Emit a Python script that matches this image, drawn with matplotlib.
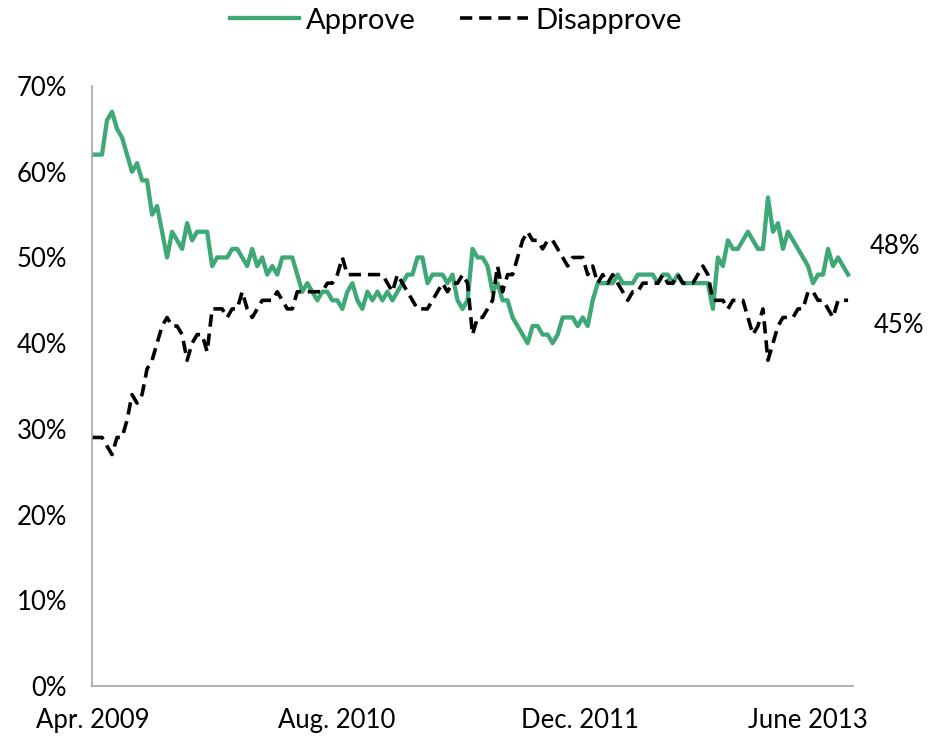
import numpy as np
import matplotlib.pyplot as plt

plt.rcParams['font.family'] = ['Lato', 'DejaVu Sans']

# Weekly-ish approval readings, Apr. 2009 - Aug. 2013 (percent)
approve = [62, 62, 62, 66, 67, 65, 64, 62, 60, 61,
           59, 59, 55, 56, 53, 50, 53, 52, 51, 54,
           52, 53, 53, 53, 49, 50, 50, 50, 51, 51,
           50, 49, 51, 49, 50, 48, 49, 48, 50, 50,
           50, 48, 46, 47, 46, 45, 46, 46, 45, 45,
           44, 46, 47, 45, 44, 46, 45, 46, 45, 46,
           45, 46, 47, 48, 48, 50, 50, 47, 48, 48,
           48, 47, 48, 45, 44, 45, 51, 50, 50, 49,
           46, 47, 45, 45, 43, 42, 41, 40, 42, 42,
           41, 41, 40, 41, 43, 43, 43, 42, 43, 42,
           45, 47, 47, 47, 47, 48, 47, 47, 47, 48,
           48, 48, 48, 47, 48, 48, 47, 48, 47, 47,
           47, 47, 47, 47, 44, 50, 49, 52, 51, 51,
           52, 53, 52, 51, 51, 57, 53, 54, 51, 53,
           52, 51, 50, 49, 47, 48, 48, 51, 49, 50,
           49, 48]

disapprove = [29, 29, 29, 28, 27, 29, 29, 31, 34, 33,
              34, 37, 38, 40, 42, 43, 42, 42, 41, 38,
              40, 41, 41, 39, 44, 44, 44, 43, 44, 44,
              46, 44, 43, 44, 45, 45, 45, 46, 45, 44,
              44, 46, 46, 46, 46, 46, 46, 47, 47, 48,
              50, 48, 48, 48, 48, 48, 48, 48, 48, 47,
              46, 48, 47, 46, 45, 44, 44, 44, 45, 46,
              47, 46, 47, 47, 48, 47, 41, 43, 43, 44,
              45, 49, 46, 48, 48, 50, 52, 53, 52, 52,
              51, 52, 52, 51, 50, 49, 50, 50, 50, 48,
              49, 47, 48, 47, 48, 47, 46, 45, 46, 46,
              47, 47, 47, 47, 48, 47, 47, 48, 47, 47,
              47, 48, 49, 48, 45, 45, 45, 44, 45, 45,
              45, 43, 41, 42, 44, 38, 40, 42, 43, 43,
              43, 44, 44, 46, 46, 45, 45, 44, 43, 45,
              45, 45]

date_labels = ['Apr. 2009', 'Aug. 2010', 'Dec. 2011', 'June 2013']

green = '#3FA877'
x = np.arange(len(approve))

fig = plt.figure(figsize=(9.31, 7.43), dpi=100)
ax = fig.add_axes([0.0988, 0.0767, 0.8175, 0.8075])

ax.plot(x, approve, color=green, lw=3.1, label='Approve', solid_joinstyle='round')
ax.plot(x, disapprove, color='black', lw=2.6, linestyle=(0, (3.4, 1.9)),
        label='Disapprove')

ax.set_ylim(0, 70)
ax.set_xlim(0, len(approve))
ax.set_yticks(np.arange(0, 71, 10))
ax.set_yticklabels([f'{v}%' for v in range(0, 71, 10)])
n = len(approve)
ax.set_xticks([0.2, n * 0.321, n * 0.641, n * 0.941])
ax.set_xticklabels(date_labels)
ax.tick_params(axis='both', length=0, labelsize=18.5)
ax.tick_params(axis='y', pad=18)
ax.tick_params(axis='x', pad=16)

for side in ['top', 'right']:
    ax.spines[side].set_visible(False)
for side in ['left', 'bottom']:
    ax.spines[side].set_color('#A6A6A6')
    ax.spines[side].set_linewidth(1.2)

# end-point labels
ax.annotate(f'{approve[-1]}%', xy=(x[-1], approve[-1]), xytext=(34, 20),
            textcoords='offset points', ha='center', va='center', fontsize=18.5)
ax.annotate(f'{disapprove[-1]}%', xy=(x[-1], disapprove[-1]), xytext=(37, -18),
            textcoords='offset points', ha='center', va='center', fontsize=18.5)

fig.legend(loc='upper center', bbox_to_anchor=(0.49, 1.025), ncol=2, frameon=False,
           fontsize=21, handlelength=2.35, handletextpad=0.25, columnspacing=1.5)

plt.savefig('out.png', dpi=100)
